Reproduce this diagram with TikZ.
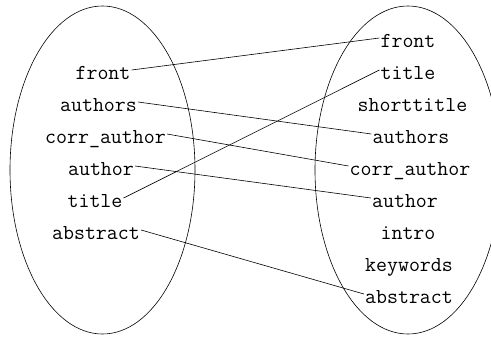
\documentclass[tikz,border=0pt]{standalone}
\usepackage{fontspec}
\begin{document}
\begin{tikzpicture}[x=1pt,y=-1pt,
  lbl/.style={font=\ttfamily\fontsize{21.3}{21.3}\selectfont, anchor=base, inner sep=1pt, text height=18pt, text depth=0pt},
  conn/.style={line width=0.6pt},
  set/.style={line width=0.6pt}]
\useasboundingbox (0,0) rectangle (491,338);
\clip (0,0) rectangle (491,338);
\draw[set] (102.5,170) ellipse [x radius=92.5, y radius=164];
\draw[set] (408,170) ellipse [x radius=93, y radius=164];
% left
\node[lbl] (lfront) at (103,79) {front};
\node[lbl] (lauthors) at (98.5,111) {authors};
\node[lbl] (lcorr) at (105.5,143) {corr\_author};
\node[lbl] (lauthor) at (101,175) {author};
\node[lbl] (ltitle) at (95,207) {title};
\node[lbl] (labstract) at (96,239) {abstract};
% right
\node[lbl] (rfront) at (408,47) {front};
\node[lbl] (rtitle) at (408,79) {title};
\node[lbl] (rshort) at (412.5,111) {shorttitle};
\node[lbl] (rauthors) at (411,143) {authors};
\node[lbl] (rcorr) at (410,175) {corr\_author};
\node[lbl] (rauthor) at (405,207) {author};
\node[lbl] (rintro) at (408,239) {intro};
\node[lbl] (rkeywords) at (409,271) {keywords};
\node[lbl] (rabstract) at (409,303) {abstract};
% connectors
\draw[conn] (lfront.east) -- (rfront.west);
\draw[conn] (lauthors.east) -- (rauthors.west);
\draw[conn] (lcorr.east) -- (rcorr.west);
\draw[conn] (lauthor.east) -- (rauthor.west);
\draw[conn] (ltitle.east) -- (rtitle.west);
\draw[conn] (labstract.east) -- (rabstract.west);
\end{tikzpicture}
\end{document}
